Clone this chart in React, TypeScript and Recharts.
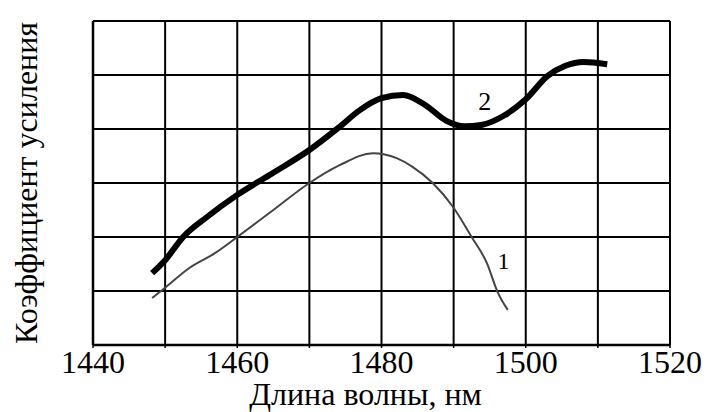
import { LineChart, Line, XAxis, YAxis, CartesianGrid, ReferenceDot, Label } from 'recharts';

const xTicks = [1440, 1450, 1460, 1470, 1480, 1490, 1500, 1510, 1520];
const yTicks = [0, 1, 2, 3, 4, 5, 6];

// curve 1 (thin)
const curve1X = [1448.2, 1450, 1453.4, 1456.9, 1460, 1465, 1470, 1474.2, 1478.8, 1482.1, 1484.3, 1487.1, 1489.9, 1492.5, 1494.6, 1496.1, 1497.5];
const curve1Y = [0.87, 1.06, 1.43, 1.7, 2.0, 2.5, 3.0, 3.33, 3.55, 3.46, 3.3, 3.0, 2.56, 2.0, 1.52, 0.98, 0.65];

// curve 2 (thick)
const curve2X = [1448.2, 1450, 1452.5, 1455.8, 1460, 1465, 1470, 1474, 1477, 1480, 1483, 1486, 1489, 1491.5, 1494, 1497, 1500, 1503, 1505.5, 1508, 1511.3];
const curve2Y = [1.33, 1.57, 2.0, 2.37, 2.78, 3.19, 3.61, 4.02, 4.35, 4.57, 4.63, 4.45, 4.15, 4.05, 4.08, 4.25, 4.55, 4.98, 5.17, 5.24, 5.2];

const curve1 = curve1X.map((x, i) => ({ x, y: curve1Y[i] }));
const curve2 = curve2X.map((x, i) => ({ x, y: curve2Y[i] }));

const FONT = '"Liberation Serif", "Times New Roman", serif';

const XTick = (props: any) => {
  const { x, y, payload } = props;
  const showLabel = payload.value % 20 === 0;
  return (
    <g>
      <line x1={x} x2={x} y1={y - 4} y2={y - 1} stroke="#000" strokeWidth={1.5} />
      {showLabel && (
        <text x={x} y={y + 24} textAnchor="middle" fontSize={32} fontFamily={FONT} fill="#000">
          {payload.value}
        </text>
      )}
    </g>
  );
};

const EmptyTick = () => <g />;

export default function App() {
  return (
    <div style={{ position: 'absolute', left: 0, top: 0, background: '#fff' }}>
      <LineChart
        width={708}
        height={412}
        margin={{ top: 21, right: 38, bottom: 7, left: 1 }}
      >
        <CartesianGrid stroke="#000" strokeWidth={2} horizontal vertical />
        <XAxis
          type="number"
          dataKey="x"
          domain={[1440, 1520]}
          ticks={xTicks}
          height={60}
          tick={<XTick />}
          tickLine={false}
          tickSize={4}
          tickMargin={0}
          axisLine={{ stroke: '#000', strokeWidth: 2.5 }}
          allowDataOverflow
        >
          <Label
            content={(p: any) => {
              const vb = p.viewBox;
              return (
                <text x={vb.x + vb.width / 2 - 16} y={vb.y + 60} textAnchor="middle" fontSize={32} fontFamily={FONT} fill="#000">
                  Длина волны, нм
                </text>
              );
            }}
          />
        </XAxis>
        <YAxis
          type="number"
          domain={[0, 6]}
          ticks={yTicks}
          width={92}
          tick={<EmptyTick />}
          tickLine={false}
          axisLine={{ stroke: '#000', strokeWidth: 2.5 }}
          label={{
            value: 'Коэффициент усиления',
            angle: -90,
            position: 'insideLeft',
            offset: 0,
            dx: 25,
            style: { textAnchor: 'middle', fontSize: 32, fontFamily: FONT, fill: '#000' },
          }}
        />
        <Line
          data={curve1}
          dataKey="y"
          type="monotone"
          stroke="#444"
          strokeWidth={2}
          dot={false}
          isAnimationActive={false}
        />
        <Line
          data={curve2}
          dataKey="y"
          type="monotone"
          stroke="#000"
          strokeWidth={6}
          dot={false}
          isAnimationActive={false}
        />
        <ReferenceDot x={1494.3} y={4.52} r={0} stroke="none" fill="none">
          <Label value="2" position="center" fontSize={26} fontFamily={FONT} fill="#000" />
        </ReferenceDot>
        <ReferenceDot x={1496.9} y={1.56} r={0} stroke="none" fill="none">
          <Label value="1" position="center" fontSize={24} fontFamily={FONT} fill="#000" />
        </ReferenceDot>
      </LineChart>
    </div>
  );
}
